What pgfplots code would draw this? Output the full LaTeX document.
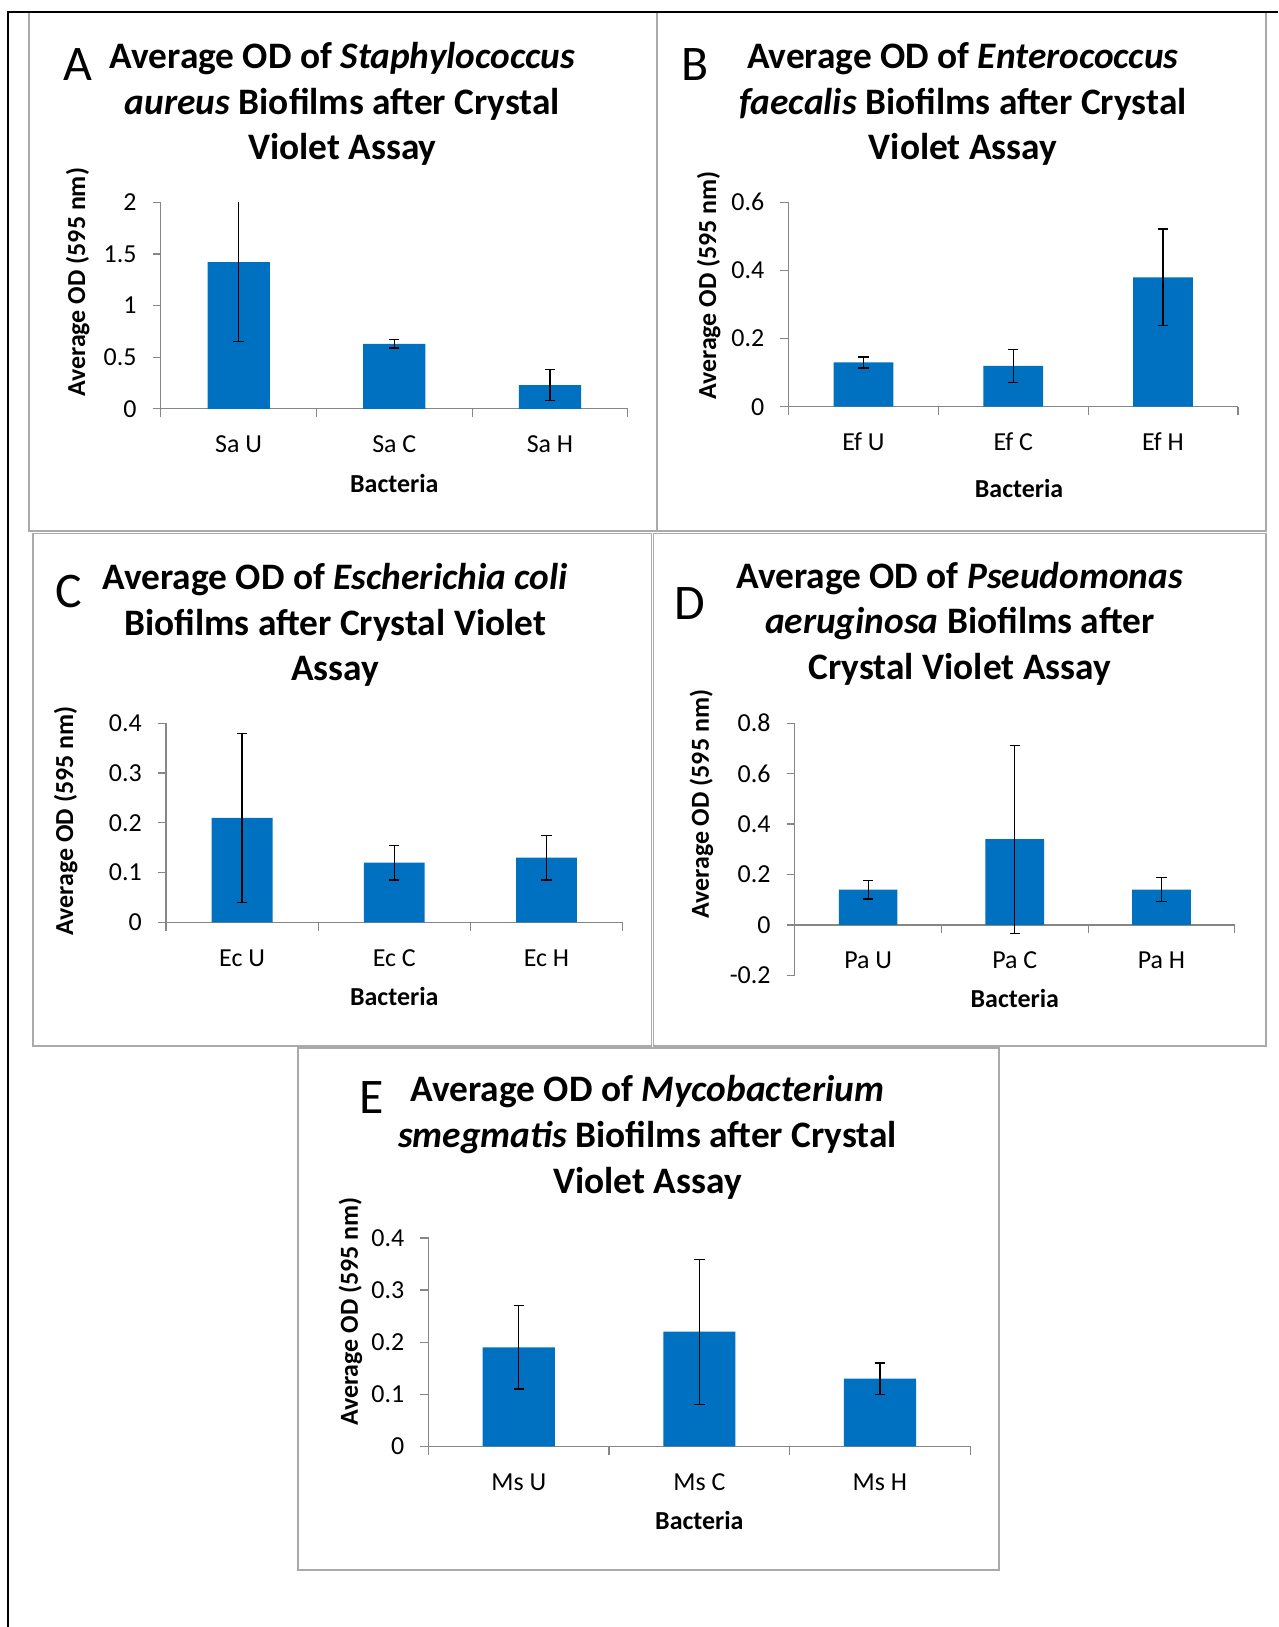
\documentclass[border=0pt]{standalone}
\usepackage{pgfplots}
\pgfplotsset{compat=1.18}
\usepackage{fontspec}
\setmainfont{Carlito}
\definecolor{barblue}{RGB}{0,112,192}
\definecolor{axisgray}{RGB}{134,134,134}
\definecolor{boxgray}{RGB}{170,170,170}
\pgfplotsset{
 panel/.style={
  scale only axis,
  axis lines*=left,
  xmin=0.5, xmax=3.5,
  xtick={1,2,3},
  minor xtick={0.5,1.5,2.5,3.5},
  tick align=outside,
  major tick length=4pt,
  minor tick length=4pt,
  tick style={draw=axisgray, line width=0.6pt},
  major x tick style={draw=none},
  axis line style={draw=axisgray, line width=0.6pt},
  /pgf/number format/assume math mode=true,
  tick label style={font=\fontsize{12.5}{15}\selectfont, black},
  xticklabel style={anchor=base, inner sep=0pt, yshift=-17pt},
  yticklabel style={anchor=east, inner sep=0pt, xshift=-7.5pt},
  label style={font=\fontsize{12.5}{15}\selectfont\bfseries},
  ylabel={Average OD (595 nm)},
  xlabel={Bacteria},
 },
 bars/.style={ybar, bar width=0.4, fill=barblue, draw=none,
   error bars/y dir=both, error bars/y explicit,
   error bars/error bar style={black, line width=0.6pt},
   error bars/error mark options={rotate=90, black, mark size=2.5pt, line width=0.6pt}},
}
% multi-line title: the base anchor is the baseline of the LAST line
\tikzset{ttl/.style={font=\fontsize{18}{22}\selectfont\bfseries, align=center, anchor=base, inner sep=0pt},
  plet/.style={font=\fontsize{24}{28}\selectfont, inner sep=0pt}}
\begin{document}
\begin{tikzpicture}
\useasboundingbox (0pt,0pt) rectangle (616pt,784pt);
% panel boxes
\draw[boxgray, line width=0.75pt] (14pt,528pt) rectangle (316.5pt,778pt);
\draw[boxgray, line width=0.75pt] (316.5pt,528pt) rectangle (610pt,778pt);
\draw[boxgray, line width=0.75pt] (16pt,280pt) rectangle (314pt,527pt);
\draw[boxgray, line width=0.75pt] (315pt,280pt) rectangle (610pt,527pt);
\draw[boxgray, line width=0.75pt] (143.5pt,27.5pt) rectangle (481.5pt,279pt);
\draw[black, line width=1pt] (4pt,0pt) -- (4pt,778pt) -- (616pt,778pt);

% ---------- A ----------
\node[plet] at (37.5pt,753pt) {A};
\node[ttl] at (165pt,707pt) {Average OD of \textit{Staphylococcus}\\\textit{aureus} Biofilms after Crystal\\Violet Assay};
\begin{axis}[panel, at={(77.5pt,587pt)}, anchor=south west, width=225pt, height=99.5pt,
  ymin=0, ymax=2, ytick={0,0.5,1,1.5,2},
  xticklabels={Sa U,Sa C,Sa H},
  ylabel style={at={(axis description cs:-0.178,0.613)}, anchor=center},
  xlabel style={at={(axis description cs:0.5,-0.362)}, anchor=center}]
\addplot[bars] coordinates {(1,1.42) +- (0,0.77) (2,0.63) +- (0,0.04) (3,0.23) +- (0,0.15)};
\end{axis}

% ---------- B ----------
\node[plet] at (335pt,753pt) {B};
\node[ttl] at (464pt,707pt) {Average OD of \textit{Enterococcus}\\\textit{faecalis} Biofilms after Crystal\\Violet Assay};
\begin{axis}[panel, at={(380pt,588pt)}, anchor=south west, width=216.5pt, height=98.5pt,
  ymin=0, ymax=0.6, ytick={0,0.2,0.4,0.6},
  xticklabels={Ef U,Ef C,Ef H},
  ylabel style={at={(axis description cs:-0.178,0.594)}, anchor=center},
  xlabel style={at={(axis description cs:0.513,-0.401)}, anchor=center}]
\addplot[bars] coordinates {(1,0.13) +- (0,0.016) (2,0.12) +- (0,0.049) (3,0.38) +- (0,0.142)};
\end{axis}

% ---------- C ----------
\node[plet] at (33pt,499pt) {C};
\node[ttl] at (161.5pt,456pt) {Average OD of \textit{Escherichia coli}\\Biofilms after Crystal Violet\\Assay};
\begin{axis}[panel, at={(80pt,339.5pt)}, anchor=south west, width=220pt, height=96pt,
  ymin=0, ymax=0.4, ytick={0,0.1,0.2,0.3,0.4},
  xticklabels={Ec U,Ec C,Ec H},
  ylabel style={at={(axis description cs:-0.22,0.51)}, anchor=center},
  xlabel style={at={(axis description cs:0.5,-0.37)}, anchor=center}]
\addplot[bars] coordinates {(1,0.21) +- (0,0.17) (2,0.12) +- (0,0.035) (3,0.13) +- (0,0.045)};
\end{axis}

% ---------- D ----------
\node[plet] at (332.5pt,493pt) {D};
\node[ttl] at (462.5pt,456.5pt) {Average OD of \textit{Pseudomonas}\\\textit{aeruginosa} Biofilms after\\Crystal Violet Assay};
\begin{axis}[panel, at={(383pt,314pt)}, anchor=south west, width=212pt, height=121.5pt,
  axis x line*=middle, hide obscured x ticks=false, hide obscured y ticks=false,
  ymin=-0.2, ymax=0.8, ytick={-0.2,0,0.2,0.4,0.6,0.8},
  xticklabels={Pa U,Pa C,Pa H},
  ylabel style={at={(axis description cs:-0.212,0.679)}, anchor=center},
  xlabel style={at={(axis description cs:0.5,-0.0905)}, anchor=center}]
\addplot[bars] coordinates {(1,0.14) +- (0,0.037) (2,0.34) +- (0,0.373) (3,0.14) +- (0,0.047)};
\end{axis}

% ---------- E ----------
\node[plet] at (179pt,255pt) {E};
\node[ttl] at (312pt,209pt) {Average OD of \textit{Mycobacterium}\\\textit{smegmatis} Biofilms after Crystal\\Violet Assay};
\begin{axis}[panel, at={(206.5pt,87pt)}, anchor=south west, width=261pt, height=100.5pt,
  ymin=0, ymax=0.4, ytick={0,0.1,0.2,0.3,0.4},
  xticklabels={Ms U,Ms C,Ms H},
  ylabel style={at={(axis description cs:-0.144,0.647)}, anchor=center},
  xlabel style={at={(axis description cs:0.5,-0.353)}, anchor=center}]
\addplot[bars] coordinates {(1,0.19) +- (0,0.08) (2,0.22) +- (0,0.139) (3,0.13) +- (0,0.03)};
\end{axis}
\end{tikzpicture}
\end{document}
